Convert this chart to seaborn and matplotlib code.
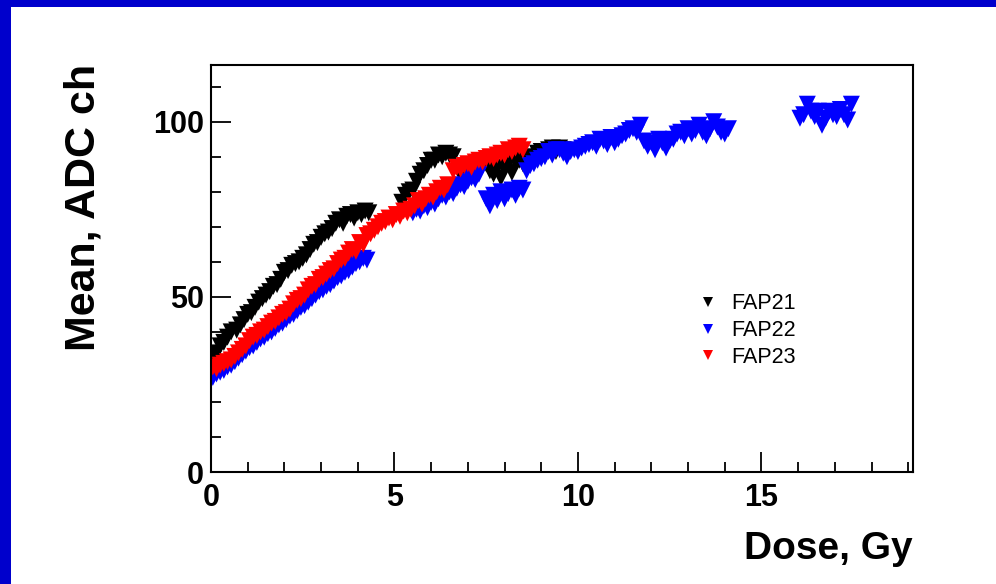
import matplotlib
matplotlib.use("Agg")
import matplotlib.pyplot as plt
import pandas as pd
import seaborn as sns
from matplotlib import font_manager
from matplotlib.patches import Rectangle
from matplotlib.ticker import MultipleLocator

"""
Mean ADC channel vs accumulated dose for three FAP samples
"""

labels = ["FAP21", "FAP22", "FAP23"]
colors = ["black", "blue", "red"]

dose_fap21 = [0.05, 0.15, 0.25, 0.35, 0.45, 0.55, 0.7, 0.8, 0.9, 1.0, 1.1, 1.2, 1.3, 1.4, 1.5,
              1.6, 1.7, 1.8, 1.9, 2.0, 2.1, 2.2, 2.3, 2.4, 2.5, 2.6, 2.7, 2.8, 2.9, 3.0, 3.1,
              3.2, 3.3, 3.4, 3.5, 3.6, 3.7, 3.8, 3.9, 4.0, 4.1, 4.2, 4.3,
              5.2, 5.3, 5.4, 5.5, 5.6, 5.7, 5.8, 5.9, 6.0, 6.1, 6.2, 6.3, 6.4, 6.5, 6.6,
              6.8, 6.9, 7.0, 7.1, 7.2, 7.3, 7.4, 7.5, 7.6, 7.7, 7.8, 7.9, 8.0, 8.1, 8.2,
              8.3, 8.4, 8.5, 8.6, 8.7, 8.8, 8.9, 9.0, 9.1, 9.2, 9.3, 9.4, 9.5, 9.6]
mean_fap21 = [32, 34, 36, 37, 38.5, 40, 40.5, 42, 43.5, 45, 45.5, 47, 48.5, 49.5, 50.5,
              51.5, 53, 53.5, 55, 57, 57.5, 59, 59.5, 60, 61, 62, 63.5, 65, 65.5, 67, 68,
              68.5, 69.5, 71, 72, 71, 73, 73.5, 72.5, 74, 73.5, 74.5, 74,
              77, 79, 80, 80.5, 83, 85, 86, 87.5, 89, 89, 90.5, 90, 91, 90.5, 90,
              85, 86, 85.5, 86.5, 87, 86, 87.5, 88, 86, 85, 87, 84, 86.5, 88, 85.5,
              88.5, 89, 88, 89.5, 90, 89, 91, 91.5, 90.5, 92, 92.5, 91.5, 92.5, 92]

dose_fap22 = [0.05, 0.15, 0.25, 0.35, 0.45, 0.55, 0.65, 0.75, 0.85, 0.95, 1.05, 1.15, 1.25,
              1.35, 1.45, 1.55, 1.65, 1.75, 1.85, 1.95, 2.05, 2.15, 2.25, 2.35, 2.45, 2.55,
              2.65, 2.75, 2.85, 2.95, 3.05, 3.15, 3.25, 3.35, 3.45, 3.55, 3.65, 3.75, 3.85,
              3.95, 4.05, 4.15, 4.25,
              5.5, 5.6, 5.7, 5.8, 5.9, 6.0, 6.1, 6.2, 6.3, 6.4, 6.5, 6.6, 6.7, 6.8, 6.9,
              7.0, 7.1, 7.2, 7.3,
              7.5, 7.6, 7.7, 7.8, 7.9, 8.0, 8.1, 8.2, 8.3, 8.4, 8.5,
              8.6, 8.7, 8.8, 8.9, 9.0, 9.1, 9.2, 9.3, 9.4, 9.5, 9.6, 9.7, 9.8, 9.9, 10.0,
              10.1, 10.2, 10.3, 10.4, 10.5, 10.6, 10.7, 10.8, 10.9, 11.0, 11.1, 11.2, 11.3,
              11.4, 11.5, 11.6, 11.7, 11.8, 11.9, 12.0, 12.1, 12.2, 12.3, 12.4, 12.5, 12.6,
              12.7, 12.8, 12.9, 13.0, 13.1, 13.2, 13.3, 13.4, 13.5, 13.6, 13.7, 13.8, 13.9,
              14.0, 14.1,
              16.05, 16.15, 16.25, 16.35, 16.45, 16.55, 16.65, 16.75, 16.85, 16.95, 17.05,
              17.15, 17.25, 17.35, 17.45]
mean_fap22 = [27, 28, 28.5, 29, 30, 30.5, 31.5, 32.5, 33.5, 34.5, 35.5, 36, 37,
              38, 38.5, 39.5, 40, 41, 42, 42.5, 43.5, 44.5, 45, 46, 47, 47.5,
              48.5, 49.5, 50.5, 51.5, 52, 53, 53.5, 54.5, 55.5, 56, 57, 57.5, 58.5,
              59.5, 60, 61, 60.5,
              74, 75, 74.5, 76, 75.5, 77, 76.5, 78, 79, 78.5, 80, 79.5, 81, 82, 81.5,
              83, 84, 83.5, 85,
              78, 76, 79, 77.5, 80, 78, 79.5, 80.5, 79, 81, 80.5,
              86, 87.5, 88, 89, 89.5, 90, 91.5, 90.5, 92, 92, 91, 90, 91.5, 92, 91.5,
              92.5, 93, 93.5, 94, 93, 95, 94.5, 93.5, 95.5, 94, 95, 96, 96.5,
              97.5, 98, 97, 99, 94.5, 93, 94, 92, 95, 94, 92.5, 94.5, 95,
              96.5, 97, 96, 98, 96.5, 97.5, 99, 97, 96, 98, 100, 98.5, 97,
              96.5, 98,
              101, 102, 105, 103, 101.5, 103, 99, 101, 103, 102, 101.5,
              103.5, 102, 100.5, 105]

dose_fap23 = [0.05, 0.15, 0.25, 0.35, 0.45, 0.55, 0.65, 0.75, 0.85, 0.95, 1.05, 1.15, 1.25,
              1.35, 1.45, 1.55, 1.65, 1.75, 1.85, 1.95, 2.05, 2.15, 2.25, 2.35, 2.45, 2.55,
              2.65, 2.75, 2.85, 2.95, 3.05, 3.15, 3.25, 3.35, 3.45, 3.55, 3.65, 3.75, 3.85,
              3.95, 4.05, 4.15, 4.25, 4.35,
              4.45, 4.55, 4.65, 4.75, 4.85, 4.95, 5.05, 5.15, 5.25, 5.35, 5.45, 5.55, 5.65,
              5.75, 5.85, 5.95, 6.05, 6.15, 6.25, 6.35, 6.45,
              6.6, 6.7, 6.8, 6.9, 7.0, 7.1, 7.2, 7.3, 7.4, 7.5, 7.6, 7.7, 7.8, 7.9, 8.0,
              8.1, 8.2, 8.3, 8.4, 8.5]
mean_fap23 = [30, 29.5, 30.5, 31, 31.5, 32, 33, 34, 35, 36, 37.5, 38.5, 39,
              40, 40.5, 41.5, 42.5, 43, 44, 45, 45.5, 46.5, 48, 49, 49.5, 50.5,
              52, 53, 53.5, 55, 55.5, 56.5, 57.5, 58, 59.5, 60.5, 61, 62.5, 63.5,
              63, 65.5, 65, 67.5, 68,
              69, 70, 71, 71.5, 72.5, 72, 73.5, 73, 74.5, 74, 75, 76, 77.5,
              76.5, 78, 79, 78.5, 80, 81, 80.5, 82,
              86, 87, 86.5, 87.5, 88, 87, 88.5, 89, 88.5, 89.5, 90, 89.5, 90.5, 91, 90.5,
              92, 91.5, 92.5, 93, 92]

doses = [dose_fap21, dose_fap22, dose_fap23]
means = [mean_fap21, mean_fap22, mean_fap23]

# long-form table, drawn in the order FAP21, FAP22, FAP23 (red on top)
df = pd.concat([pd.DataFrame({"dose": d, "mean": m, "sample": lab})
                for d, m, lab in zip(doses, means, labels)], ignore_index=True)

sns.set_style("white")
installed = {f.name for f in font_manager.fontManager.ttflist}
narrow = "Liberation Sans Narrow" if "Liberation Sans Narrow" in installed else "Liberation Sans"
plt.rcParams["font.family"] = ["Liberation Sans", "DejaVu Sans"]
plt.rcParams["text.color"] = "black"
plt.rcParams["axes.labelcolor"] = "black"
plt.rcParams["xtick.color"] = "black"
plt.rcParams["ytick.color"] = "black"

fig = plt.figure(figsize=(9.96, 5.84), dpi=100)
fig.patch.set_facecolor("white")

# blue slide frame on top and left
fig.patches.append(Rectangle((0, 1 - 7 / 584), 1, 7 / 584, transform=fig.transFigure,
                             facecolor="#0000cc", edgecolor="none", zorder=0))
fig.patches.append(Rectangle((0, 0), 11 / 996, 1, transform=fig.transFigure,
                             facecolor="#0000cc", edgecolor="none", zorder=0))

ax = fig.add_axes([211 / 996, 112 / 584, 702 / 996, 407 / 584])

sns.scatterplot(data=df, x="dose", y="mean", hue="sample", palette=colors,
                marker="v", s=150, linewidth=0, edgecolor="none", ax=ax)

ax.set_xlim(0, 19.13)
ax.set_ylim(0, 116.2)
ax.xaxis.set_major_locator(MultipleLocator(5))
ax.xaxis.set_minor_locator(MultipleLocator(1))
ax.yaxis.set_major_locator(MultipleLocator(50))
ax.yaxis.set_minor_locator(MultipleLocator(10))

for side in ["left", "bottom", "top", "right"]:
    ax.spines[side].set_color("black")
    ax.spines[side].set_linewidth(1.5)

ax.tick_params(which="major", direction="in", length=14.5, width=1.3, bottom=True, left=True,
               top=False, right=False, labelsize=22, color="black", labelcolor="black")
ax.tick_params(which="minor", direction="in", length=7.2, width=1.3, bottom=True, left=True,
               top=False, right=False, color="black")
ax.tick_params(axis="x", which="major", pad=8)
ax.tick_params(axis="y", which="major", pad=5)
for lab in ax.get_xticklabels() + ax.get_yticklabels():
    lab.set_fontfamily(narrow)
    lab.set_fontweight("bold")

ax.set_xlabel("Dose, Gy", fontsize=28, fontweight="bold", family=narrow, ha="right", va="top")
ax.xaxis.set_label_coords(1.0, -0.145)
ax.set_ylabel("Mean, ADC ch", fontsize=31, fontweight="bold", va="center")
ax.yaxis.set_label_coords(-0.181, 0.651)

sns.move_legend(ax, "upper left", bbox_to_anchor=(0.68, 0.46), frameon=False, title=None,
                fontsize=15.5, markerscale=0.62, handlelength=1.0, handletextpad=0.6,
                labelspacing=0.27, borderaxespad=0)

fig.savefig("out.png", dpi=100)
